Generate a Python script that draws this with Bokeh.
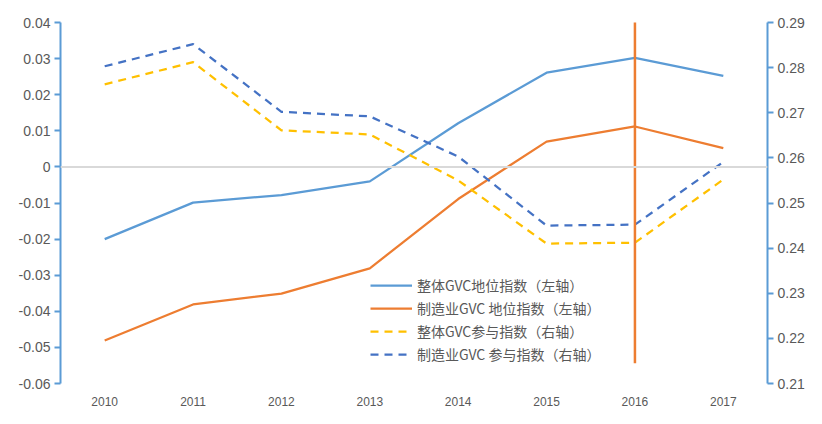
from bokeh.plotting import figure
from bokeh.models import (FactorRange, Range1d, LinearAxis, FixedTicker, Span,
                          CustomJSTickFormatter, Legend, LegendItem, ColumnDataSource)
from bokeh.embed import file_html
from bokeh.resources import INLINE

# ---- data ----
years = ["2010", "2011", "2012", "2013", "2014", "2015", "2016", "2017"]
overall_position = [-0.0200, -0.0099, -0.0078, -0.0040, 0.0121, 0.0261, 0.0302, 0.0252]
manufacturing_position = [-0.0481, -0.0381, -0.0351, -0.0281, -0.0089, 0.0070, 0.0112, 0.0052]
overall_participation = [0.2763, 0.2812, 0.2661, 0.2652, 0.2550, 0.2410, 0.2412, 0.2552]
manufacturing_participation = [0.2803, 0.2852, 0.2702, 0.2692, 0.2603, 0.2450, 0.2452, 0.2591]
marker_year = ["2016"]
marker_low = [-0.0544]
marker_high = [0.0428]
left_ticks = [-0.06, -0.05, -0.04, -0.03, -0.02, -0.01, 0.0, 0.01, 0.02, 0.03, 0.04]
right_ticks = [0.21, 0.22, 0.23, 0.24, 0.25, 0.26, 0.27, 0.28, 0.29]
labels = ["整体GVC地位指数（左轴）", "制造业GVC 地位指数（左轴）",
          "整体GVC参与指数（右轴）", "制造业GVC 参与指数（右轴）"]

BLUE = "#5B9BD5"
ORANGE = "#ED7D31"
YELLOW = "#FFC000"
DBLUE = "#4472C4"
TXT = "#595959"
FONT = "Liberation Sans"

src = ColumnDataSource(dict(x=years, op=overall_position, mp=manufacturing_position,
                            opa=overall_participation, mpa=manufacturing_participation))

p = figure(width=822, height=424, x_range=FactorRange(factors=years),
           y_range=Range1d(-0.06, 0.04), output_backend="svg", toolbar_location=None,
           min_border_left=60, min_border_right=55, min_border_top=22, min_border_bottom=41)
p.extra_y_ranges = {"right": Range1d(0.21, 0.29)}
p.outline_line_color = None
p.background_fill_color = "white"
p.border_fill_color = "white"
p.xgrid.visible = False
p.ygrid.visible = False

# zero line
p.add_layout(Span(location=0, dimension="width", line_color="#D9D9D9", line_width=2))

# axes
yax = p.yaxis[0]
yax.ticker = FixedTicker(ticks=left_ticks)
yax.formatter = CustomJSTickFormatter(code="return Math.abs(tick) < 1e-9 ? '0' : tick.toFixed(2);")
rax = LinearAxis(y_range_name="right", ticker=FixedTicker(ticks=right_ticks),
                 formatter=CustomJSTickFormatter(code="return tick.toFixed(2);"))
p.add_layout(rax, "right")
for ax in (yax, rax):
    ax.axis_line_color = BLUE
    ax.axis_line_width = 2
    ax.major_tick_line_color = BLUE
    ax.major_tick_line_width = 2
    ax.major_tick_out = 6
    ax.major_tick_in = 0
    ax.minor_tick_line_color = None
    ax.major_label_text_font = FONT
    ax.major_label_text_font_size = "14px"
    ax.major_label_text_color = TXT
    ax.major_label_standoff = 4

xax = p.xaxis[0]
xax.axis_line_color = None
xax.major_tick_line_color = None
xax.minor_tick_line_color = None
xax.major_tick_out = 0
xax.major_label_text_font = FONT
xax.major_label_text_font_size = "12px"
xax.major_label_text_color = TXT
xax.major_label_standoff = 13

lw = 2.25
r1 = p.line("x", "op", source=src, line_color=BLUE, line_width=lw, line_join="round")
r2 = p.line("x", "mp", source=src, line_color=ORANGE, line_width=lw, line_join="round")
r3 = p.line("x", "opa", source=src, y_range_name="right", line_color=YELLOW,
            line_width=lw, line_dash="8 6", line_join="round")
r4 = p.line("x", "mpa", source=src, y_range_name="right", line_color=DBLUE,
            line_width=lw, line_dash="8 6", line_join="round")
p.segment(x0=marker_year, y0=marker_low, x1=marker_year, y1=marker_high,
          line_color=ORANGE, line_width=2.5)

legend = Legend(items=[LegendItem(label=labels[0], renderers=[r1]),
                       LegendItem(label=labels[1], renderers=[r2]),
                       LegendItem(label=labels[2], renderers=[r3]),
                       LegendItem(label=labels[3], renderers=[r4])],
                location=(310, 19), padding=0, margin=0, spacing=3,
                glyph_width=42, glyph_height=20, label_height=20, label_standoff=5,
                label_text_font="Noto Sans CJK SC", label_text_font_size="14px",
                label_text_color=TXT, background_fill_alpha=0, border_line_color=None)
p.add_layout(legend, "center")

open("out.html", "w").write(file_html(p, INLINE))
